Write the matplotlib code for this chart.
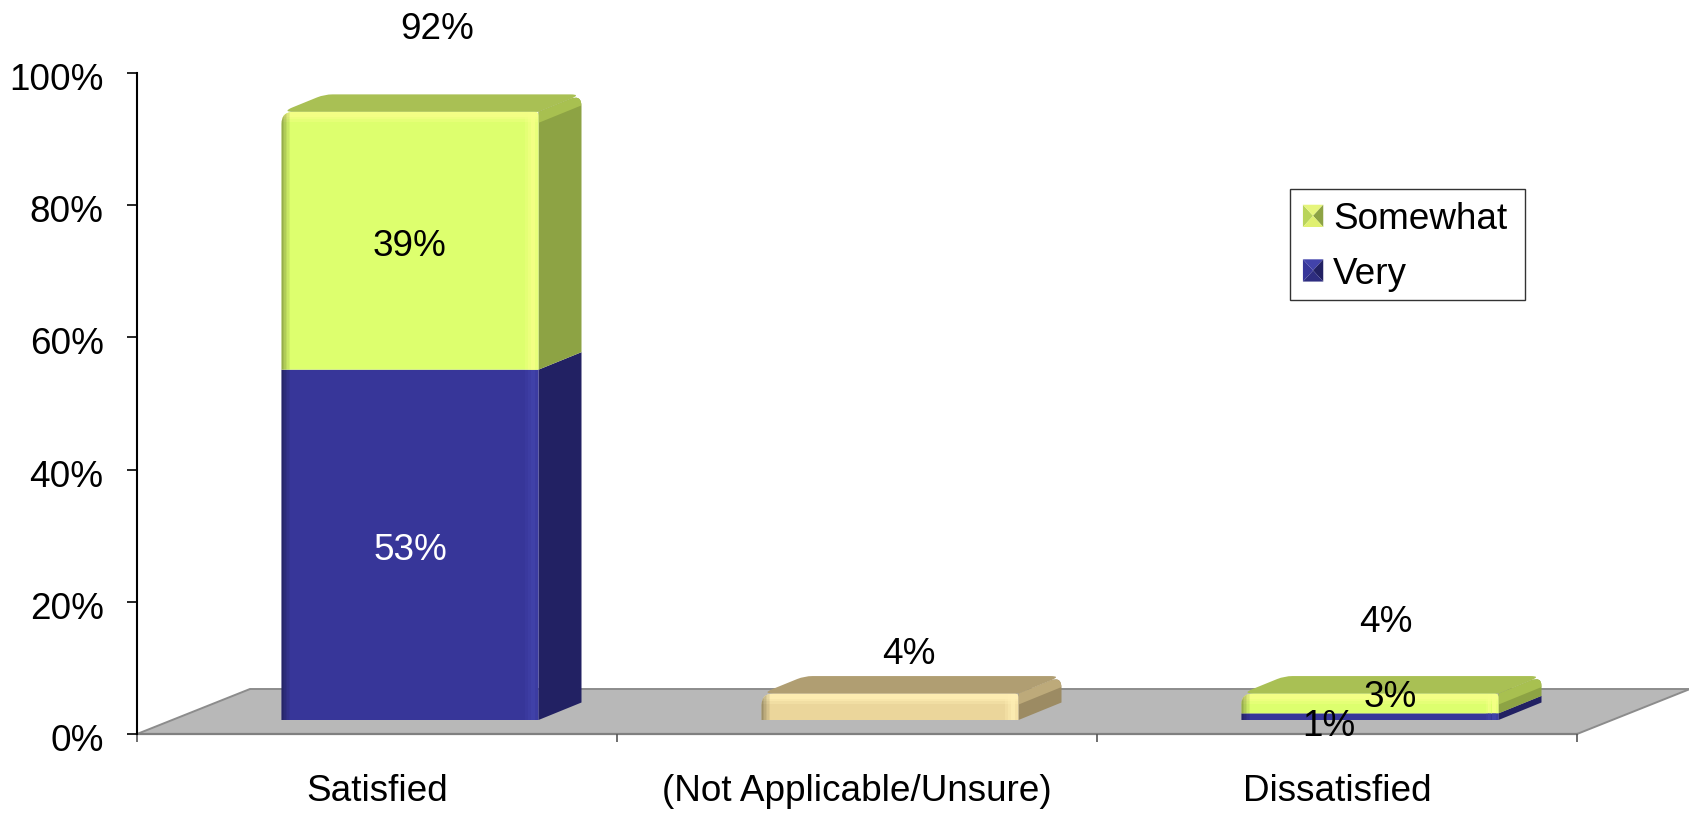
import matplotlib
matplotlib.use("Agg")
import matplotlib.pyplot as plt
from matplotlib.patches import Polygon, PathPatch, Rectangle
from matplotlib.path import Path
from matplotlib.legend_handler import HandlerBase
from matplotlib.transforms import ScaledTranslation

plt.rcParams['font.family'] = ['Liberation Sans', 'DejaVu Sans']

categories = ['Satisfied', '(Not Applicable/Unsure)', 'Dissatisfied']
very = [53, 0, 1]
somewhat = [39, 0, 3]
unsure = [0, 4, 0]
totals = [92, 4, 4]
yticks = [0, 20, 40, 60, 80, 100]

W, H = 1690, 815
FS = 26.6
fig = plt.figure(figsize=(W / 100, H / 100), dpi=100, facecolor='white')
ax = fig.add_axes([137 / W, (H - 734) / H, 1440 / W, 661 / H])
ax.set_xlim(-0.5, 2.5)
ax.set_ylim(0, 100)
XU, YU = 1 / 480, 100 / 661      # data units per pixel

# 3-D projection constants, in pixels
FRONT_X, FRONT_Y = 33 * XU, 14 * YU
SIDE_X, SIDE_Y = 43 * XU, 17.5 * YU
FLOOR_X, FLOOR_Y = 113 * XU, 45 * YU
BAR_W = 257 * XU

STYLE = {
    'very': dict(front='#373699', side='#222163', top='#2E2D80', hi='#4243AB', band='#2A2975'),
    'somewhat': dict(front='#DDFF6E', side='#8DA344', top='#A9C054', hi='#F6FF88', band='#A8C050'),
    'unsure': dict(front='#EBD69B', side='#9C8B63', top='#B09E72', hi='#FFEFB4', band='#BDAA7A'),
}


def rounded(pts, radii, **kw):
    """Polygon (data coords) whose corners are rounded by a radius in pixels."""
    verts, codes = [], []
    n = len(pts)
    for i in range(n):
        p, a, b = pts[i], pts[i - 1], pts[(i + 1) % n]
        r = radii[i]

        def toward(q):
            dx, dy = (q[0] - p[0]) / XU, (q[1] - p[1]) / YU
            d = max((dx * dx + dy * dy) ** 0.5, 1e-6)
            t = min(r / d, 0.5)
            return (p[0] + (q[0] - p[0]) * t, p[1] + (q[1] - p[1]) * t)
        s, e = toward(a), toward(b)
        verts.append(s)
        codes.append(Path.MOVETO if i == 0 else Path.LINETO)
        verts += [p, e]
        codes += [Path.CURVE3, Path.CURVE3]
    verts.append(verts[0])
    codes.append(Path.CLOSEPOLY)
    patch = PathPatch(Path(verts, codes), clip_on=False, lw=0, **kw)
    ax.add_patch(patch)
    return patch


def segment(cat, start, value, st, is_top):
    x0 = cat - BAR_W / 2 + FRONT_X
    x1 = x0 + BAR_W
    y0 = start + FRONT_Y
    y1 = y0 + value
    z = 2 + start * 0.01
    r = 12 if is_top else 0
    if is_top:
        rounded([(x0, y1), (x0 + SIDE_X, y1 + SIDE_Y), (x1 + SIDE_X, y1 + SIDE_Y), (x1, y1)],
                [r, 8, 11, 0], color=st['top'], zorder=z)
    side = rounded([(x1, y0), (x1 + SIDE_X, y0 + SIDE_Y), (x1 + SIDE_X, y1 + SIDE_Y), (x1, y1)],
                   [0, 0, r, 0], color=st['side'], zorder=z + 0.05)
    if is_top:
        band = 11 * YU
        b = Polygon([(x1, y1 + 1 * YU), (x1 + SIDE_X, y1 + SIDE_Y + 1 * YU),
                     (x1 + SIDE_X, y1 + SIDE_Y - band), (x1, y1 - band)],
                    closed=True, color=st['band'], lw=0, zorder=z + 0.1)
        ax.add_patch(b)
        b.set_clip_path(side)
    front = rounded([(x0, y0), (x0, y1), (x1, y1), (x1, y0)], [0, r, 4 if is_top else 0, 0],
                    color=st['front'], zorder=z + 0.2)
    overlays = []
    # top highlight, fading downward
    if is_top:
        h = min(10 * YU, value * 0.7)
        for frac, a in ((1.0, 0.35), (0.75, 0.5), (0.5, 0.75)):
            overlays.append(Rectangle((x0, y1 - h * frac), BAR_W, h * frac, color=st['hi'], lw=0, alpha=a))
    # right highlight strip
    for off, wid, a in ((13, 3, 0.3), (10, 3, 0.6), (7, 4, 0.85), (3, 3, 0.5)):
        overlays.append(Rectangle((x1 - off * XU, y0), wid * XU, value, color=st['hi'], lw=0, alpha=a))
    # left shading
    for i, a in enumerate((0.32, 0.26, 0.2, 0.14, 0.09, 0.05)):
        overlays.append(Rectangle((x0 + i * 1.5 * XU, y0), 1.5 * XU, value, color='black', alpha=a, lw=0))
    for o in overlays:
        o.set_zorder(z + 0.3)
        ax.add_patch(o)
        o.set_clip_path(front)


# floor
ax.add_patch(Polygon([(-0.5, 0), (-0.5 + FLOOR_X, FLOOR_Y), (2.5 + FLOOR_X, FLOOR_Y), (2.5, 0)],
                     closed=True, facecolor='#B8B8B8', edgecolor='#8C8C8C', lw=1.4,
                     clip_on=False, zorder=1))

# stacked bars
for i in range(len(categories)):
    stack = [(very[i], 'very'), (unsure[i], 'unsure'), (somewhat[i], 'somewhat')]
    stack = [s for s in stack if s[0] > 0]
    base = 0
    for j, (v, key) in enumerate(stack):
        segment(i, base, v, STYLE[key], j == len(stack) - 1)
        base += v

# value labels
lab = dict(ha='center', va='center', fontsize=FS, zorder=10, clip_on=False)
ax.text(0 + FRONT_X, very[0] / 2 + FRONT_Y - 0.8, f'{very[0]}%', color='white', **lab)
ax.text(0 + FRONT_X, very[0] + somewhat[0] / 2 + FRONT_Y - 0.8, f'{somewhat[0]}%', color='black', **lab)
ax.text(0 + 0.125, totals[0] + 14.6, f'{totals[0]}%', color='black', **lab)
ax.text(1 + 0.109, totals[1] + 8.0, f'{totals[1]}%', color='black', **lab)
ax.text(2 + 0.102, totals[2] + 12.8, f'{totals[2]}%', color='black', **lab)
ax.text(2 + 0.111, somewhat[2] + 2.5, f'{somewhat[2]}%', color='black', **lab)
ax.text(2 - 0.016, very[2] + 0.1, f'{very[2]}%', color='black', **lab)

# axes
for s in ('top', 'right'):
    ax.spines[s].set_visible(False)
ax.spines['left'].set_color('black')
ax.spines['left'].set_linewidth(1.5)
ax.spines['left'].set_zorder(5)
ax.spines['bottom'].set_color('#808080')
ax.spines['bottom'].set_linewidth(1.6)
ax.spines['bottom'].set_zorder(1.5)
ax.set_yticks(yticks)
ax.set_yticklabels([f'{t}%' for t in yticks], fontsize=FS)
ax.tick_params(axis='y', length=7, width=1.2, color='black', pad=17)
down = ScaledTranslation(0, -2.5 / 72, fig.dpi_scale_trans)
for t in ax.get_yticklabels():
    t.set_transform(t.get_transform() + down)
ax.set_xticks([-0.5, 0.5, 1.5, 2.5])
ax.set_xticklabels([])
ax.tick_params(axis='x', length=6, width=1.2, color='#555555')
ax.set_xticks([0, 1, 2], labels=categories, minor=True, fontsize=FS)
ax.tick_params(axis='x', which='minor', length=0, pad=29)


# legend with pyramid swatches
class Swatch:
    def __init__(self, colors):
        self.colors = colors


class HandlerSwatch(HandlerBase):
    def create_artists(self, legend, orig, xd, yd, width, height, fontsize, trans):
        x0, y0 = -xd, -yd
        x1, y1 = x0 + width, y0 + height
        cx, cy = (x0 + x1) / 2, (y0 + y1) / 2
        tris = [[(x0, y0), (x0, y1), (cx, cy)], [(x0, y1), (x1, y1), (cx, cy)],
                [(x1, y1), (x1, y0), (cx, cy)], [(x1, y0), (x0, y0), (cx, cy)]]
        return [Polygon(t, closed=True, color=c, lw=0, transform=trans)
                for t, c in zip(tris, orig.colors)]


fig.add_artist(Rectangle((1290 / W, 1 - 300 / H), 235 / W, 111 / H, transform=fig.transFigure,
                         facecolor='white', edgecolor='#333333', lw=1.0))
h_some = Swatch(['#B9D45A', '#E6F57C', '#8DA344', '#E0F070'])
h_very = Swatch(['#373699', '#4243AB', '#222163', '#2E2D80'])
leg = fig.legend([h_some, h_very], ['Somewhat', 'Very'],
                 handler_map={Swatch: HandlerSwatch()},
                 loc='upper left', bbox_to_anchor=(1290 / W, 1 - 189 / H),
                 bbox_transform=fig.transFigure, fontsize=FS, frameon=False,
                 handlelength=0.55, handleheight=0.55, handletextpad=0.27,
                 labelspacing=0.53, borderpad=0.35, borderaxespad=0)

fig.savefig('out.png', dpi=100)
